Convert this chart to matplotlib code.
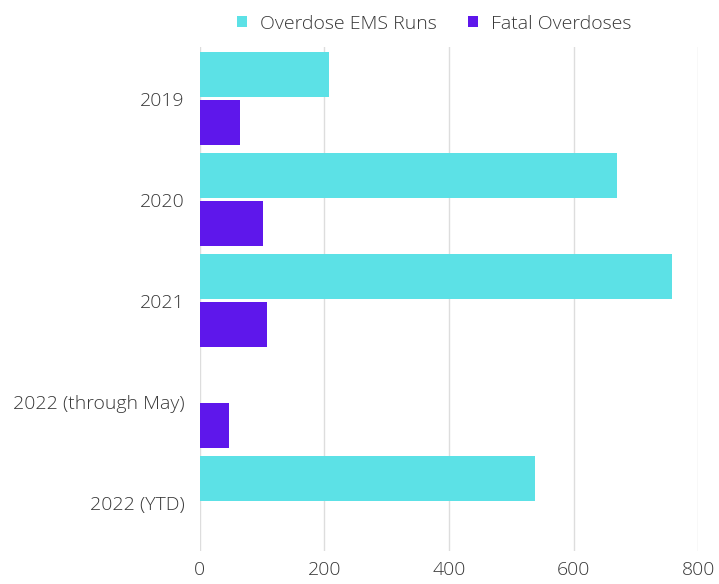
import matplotlib.pyplot as plt
import numpy as np

plt.rcParams['font.family'] = ['Open Sans', 'DejaVu Sans']

years = ["2019", "2020", "2021", "2022 (through May)", "2022 (YTD)"]
ems_runs = [207, 669, 758, np.nan, 538]
fatal = [65, 102, 107, 46, np.nan]

c_ems = "#5ce1e6"
c_fatal = "#5e17eb"
txt = "#383838"

fig = plt.figure(figsize=(7.19, 5.84), dpi=100)
ax = fig.add_axes([0.278, 0.0565, 0.693, 0.863])

y = np.arange(len(years))
h = 0.445
off = 0.237

ax.barh(y - off, ems_runs, height=h, color=c_ems, label="Overdose EMS Runs", zorder=3)
ax.barh(y + off, fatal, height=h, color=c_fatal, label="Fatal Overdoses", zorder=3)

ax.set_xlim(0, 800)
ax.set_ylim(4.48, -0.51)
ax.set_xticks([0, 200, 400, 600, 800])
ax.set_yticks(y)
ax.set_yticklabels(years)
ax.tick_params(axis="both", length=0, labelsize=14, labelcolor=txt)
ax.tick_params(axis="x", pad=7)
ax.tick_params(axis="y", pad=11)
for t in ax.get_xticklabels() + ax.get_yticklabels():
    t.set_fontweight("light")

ax.grid(axis="x", color="#dddddd", linewidth=1, zorder=0)
for s in ax.spines.values():
    s.set_visible(False)

leg = fig.legend(loc="upper center", bbox_to_anchor=(0.604, 1.005), ncol=2, frameon=False,
                 prop={"size": 14, "weight": "light"}, handlelength=0.5, handleheight=0.5,
                 columnspacing=1.6, handletextpad=0.7)
for t in leg.get_texts():
    t.set_color(txt)

fig.savefig("out.png", dpi=100)
